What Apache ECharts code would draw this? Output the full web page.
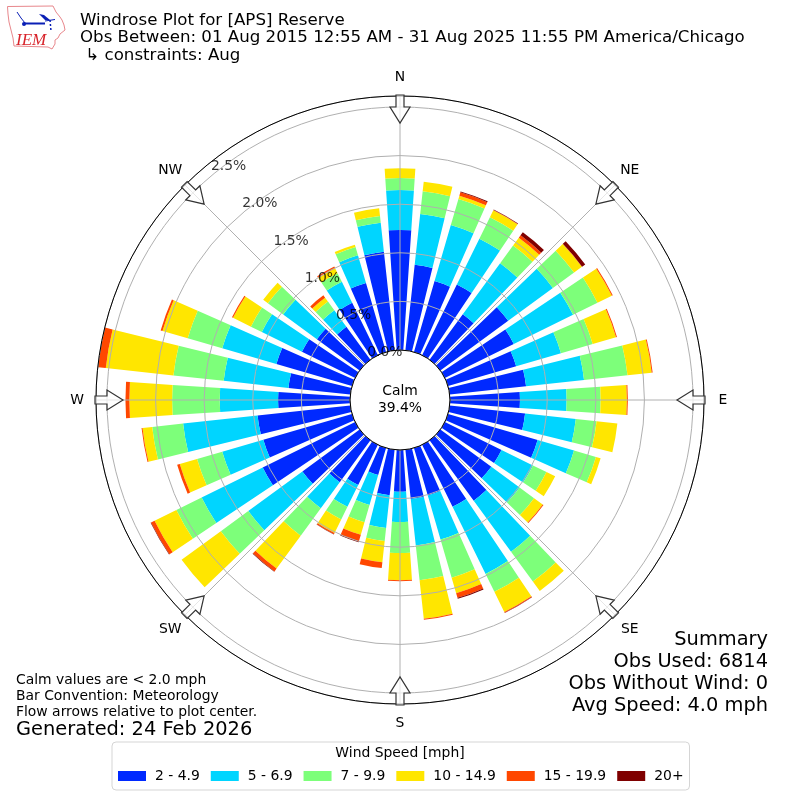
<!DOCTYPE html>
<html>
<head>
<meta charset="utf-8">
<style>html,body{margin:0;padding:0;background:#fff}#c{width:800px;height:800px}</style>
<script src="https://cdn.jsdelivr.net/npm/echarts@6/dist/echarts.min.js"></script>
</head>
<body>
<div id="c"></div>
<script>
var directions = ['0','10','20','30','40','50','60','70','80','90','100','110','120','130','140','150','160','170','180','190','200','210','220','230','240','250','260','270','280','290','300','310','320','330','340','350'];
var binNames = ['2 - 4.9','5 - 6.9','7 - 9.9','10 - 14.9','15 - 19.9','20+'];
var binColors = ['#0029ff','#00d5ff','#7dff7a','#ffe600','#ff4700','#7f0000'];
var bin1 = [1.235,.885,.76,.81,.58,.865,.79,.73,.79,.72,.78,.96,.65,.65,.77,.71,.51,.51,.43,.47,.29,.46,.535,.73,1.06,.95,.96,.74,.64,.81,.61,.545,.42,.60,.74,1.02];
var bin2 = [.41,.525,.60,.525,.65,.57,.68,.48,.60,.48,.525,.39,.36,.36,.65,.77,.47,.48,.31,.34,.32,.25,.33,.69,.70,.44,.77,.60,.67,.58,.46,.43,.21,.24,.295,.30];
var bin3 = [.125,.235,.28,.245,.225,.27,.28,.34,.45,.35,.215,.235,.155,.185,.38,.205,.41,.36,.32,.135,.185,.145,.35,.35,.29,.27,.32,.49,.52,.37,.125,.195,.11,.10,.09,.07];
var bin4 = [.10,.10,.035,.08,.10,.10,.165,.25,.25,.27,.215,.05,.10,.11,.12,.23,.165,.40,.28,.22,.135,.155,.42,.50,.25,.185,.10,.44,.70,.27,.205,.06,.05,.057,.025,.08];
var bin5 = [0,0,.035,.005,.03,.002,.01,.01,.01,.01,0,0,0,.01,0,.01,.05,.01,.01,.06,.07,.015,.036,0,.04,.028,.01,.04,.08,.02,.012,0,.03,.02,0,0];
var bin6 = [0,0,.01,.005,.04,.04,0,0,0,0,0,0,0,0,0,.003,.01,0,0,0,.01,.003,.005,0,.005,0,0,0,0,0,0,0,0,0,0,0];
var bins = [bin1,bin2,bin3,bin4,bin5,bin6];
var compass = ['N','NE','E','SE','S','SW','W','NW'];
var radiusTicks = [0,0.5,1,1.5,2,2.5];
var radiusMax = 2.613;
var titleLines = ['Windrose Plot for [APS] Reserve','Obs Between: 01 Aug 2015 12:55 AM - 31 Aug 2025 11:55 PM America/Chicago',' \u21b3 constraints: Aug'];
var noteLines = ['Calm values are < 2.0 mph','Bar Convention: Meteorology','Flow arrows relative to plot center.'];
var summaryLines = ['Summary','Obs Used: 6814','Obs Without Wind: 0','Avg Speed: 4.0 mph'];

var FONT = '"DejaVu Sans"';
var CX = 400, CY = 400, R0 = 50, R1 = 304;
var polarBox = {center:[CX,CY], radius:[R0,R1]};

function txt(x,y,s,size,extra){
  return {type:'text',z:50,silent:true,style:Object.assign({x:x,y:y,text:s,font:size+'px '+FONT,fill:'#000',verticalAlign:'middle'},extra||{})};
}
var graphics = [];
titleLines.forEach(function(s,i){graphics.push(txt(80,[21,38,56][i],s,16.65));});
noteLines.forEach(function(s,i){graphics.push(txt(16,680+i*16,s,13.9));});
graphics.push(txt(16,730,'Generated: 24 Feb 2026',19.4));
summaryLines.forEach(function(s,i){graphics.push(txt(768,640+i*22,s,19.4,{align:'right'}));});
graphics.push(txt(400,391,'Calm',13.9,{align:'center'}));
graphics.push(txt(400,408,'39.4%',13.9,{align:'center'}));
graphics.push(txt(400,753,'Wind Speed [mph]',13.9,{align:'center'}));
// compass labels and flow arrows
compass.forEach(function(name,i){
  var a = i*45, rad = a*Math.PI/180, rl = (i%2)?325:323;
  graphics.push(txt(CX+rl*Math.sin(rad),CY-rl*Math.cos(rad),name,13.9,{align:'center'}));
  graphics.push({type:'polygon',z:40,silent:true,x:CX,y:CY,originX:0,originY:0,rotation:-rad,
    shape:{points:[[-4,-305],[4,-305],[4,-293],[10,-293],[0,-277],[-10,-293],[-4,-293]]},
    style:{fill:'rgba(255,255,255,0.7)',stroke:'#333',lineWidth:1.2}});
});
// IEM logo
graphics.push({type:'polygon',z:50,silent:true,shape:{points:[[7.5,6.5],[53,6],[56,12],[60,17],[62,20],[64,25],[65,30],[60,34],[58,38],[55,40],[55,44],[52,49],[48,47],[14,46],[13,38],[11,30],[9,22],[8,14]]},style:{fill:'#fff',stroke:'#e8878c',lineWidth:1}});
graphics.push({type:'polyline',z:51,silent:true,shape:{points:[[17,12],[21,18],[25,23]]},style:{fill:'none',stroke:'#0a1fb5',lineWidth:1}});
graphics.push({type:'line',z:51,silent:true,shape:{x1:25,y1:23.5,x2:45,y2:23.5},style:{stroke:'#0a1fb5',lineWidth:2}});
graphics.push({type:'line',z:51,silent:true,shape:{x1:45,y1:21,x2:55,y2:19.5},style:{stroke:'#0a1fb5',lineWidth:1}});
graphics.push({type:'polygon',z:51,silent:true,shape:{points:[[39,14],[44,15],[50,20],[45,20]]},style:{fill:'#0a1fb5'}});
graphics.push({type:'circle',z:51,silent:true,shape:{cx:24,cy:24,r:2},style:{fill:'#0a1fb5'}});
graphics.push({type:'line',z:51,silent:true,shape:{x1:50,y1:20,x2:51,y2:31},style:{stroke:'#0a1fb5',lineWidth:1.5,lineDash:[2,2]}});
graphics.push({type:'text',z:51,silent:true,style:{x:16,y:32,text:'IEM',font:'italic 17px "Liberation Serif"',fill:'#d8232a'}});

var series = binNames.map(function(n,i){
  return {name:n,type:'bar',coordinateSystem:'polar',polarIndex:0,stack:'wind',data:bins[i],z:2,silent:true,
    barCategoryGap:'24%',itemStyle:{color:binColors[i]},animation:false};
});
// radial tick labels sit on their own radius line, through the axis scale
series.push({type:'scatter',coordinateSystem:'polar',polarIndex:2,silent:true,z:20,animation:false,symbolSize:1,
  itemStyle:{color:'rgba(0,0,0,0)'},
  data:radiusTicks.map(function(v){return [v,0];}),
  label:{show:true,position:'inside',offset:[17,-9],align:'center',verticalAlign:'middle',fontFamily:FONT,fontSize:13.9,color:'#000',
    formatter:function(p){return p.value[0].toFixed(1)+'%';}}});

var option = {
  animation:false,
  backgroundColor:'#fff',
  textStyle:{fontFamily:FONT},
  polar:[polarBox,polarBox,polarBox],
  angleAxis:[
    {polarIndex:0,type:'category',data:directions,startAngle:95,clockwise:true,boundaryGap:true,
      axisLine:{show:false},axisTick:{show:false},axisLabel:{show:false},splitLine:{show:false}},
    {polarIndex:1,type:'value',min:0,max:360,interval:45,startAngle:90,clockwise:true,z:6,
      axisLine:{show:true,lineStyle:{color:'#000',width:1}},axisTick:{show:false},axisLabel:{show:false},
      splitLine:{show:true,lineStyle:{color:'#b0b0b0',width:1,type:'solid'}}},
    {polarIndex:2,type:'value',min:0,max:360,startAngle:130,clockwise:true,
      axisLine:{show:false},axisTick:{show:false},axisLabel:{show:false},splitLine:{show:false}}
  ],
  radiusAxis:[
    {polarIndex:0,type:'value',min:0,max:radiusMax,axisLine:{show:false},axisTick:{show:false},axisLabel:{show:false},splitLine:{show:false}},
    {polarIndex:1,type:'value',min:0,max:radiusMax,axisLine:{show:false},axisTick:{show:false},axisLabel:{show:false},splitLine:{show:false}},
    {polarIndex:2,type:'value',min:0,max:radiusMax,interval:0.5,z:5,axisLine:{show:false},axisTick:{show:false},axisLabel:{show:false},
      splitLine:{show:true,lineStyle:{color:'#b0b0b0',width:1,type:'solid'}}}
  ],
  legend:{
    show:true,left:112,top:742,orient:'horizontal',data:binNames,selectedMode:false,icon:'rect',
    itemWidth:28,itemHeight:10,itemGap:11,
    padding:[27,6,7,6],borderColor:'#d5d5d5',borderWidth:1,borderRadius:4,backgroundColor:'#fff',
    textStyle:{fontFamily:FONT,fontSize:13.9,color:'#000',padding:[0,0,0,4]}
  },
  graphic:{elements:graphics},
  series:series
};
var chart = echarts.init(document.getElementById('c'),null,{renderer:'canvas'});
chart.setOption(option);
</script>
</body>
</html>
